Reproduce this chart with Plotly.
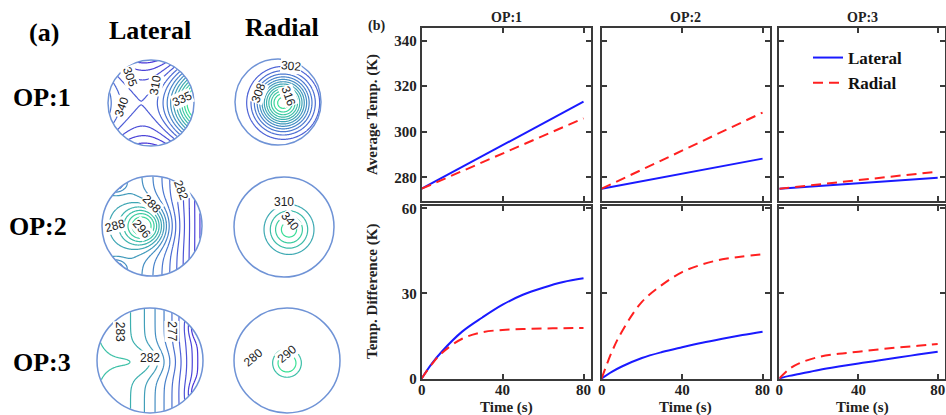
import numpy as np
import plotly.graph_objects as go
from plotly.colors import sample_colorscale

W, H = 946, 415

# ---------------- data ----------------
time_avg = [0, 20, 40, 60, 80]
avg_lateral_op1 = [275, 284.5, 294.1, 303.6, 313.2]
avg_radial_op1 = [275, 282.7, 290.4, 298.1, 305.9]
avg_lateral_op2 = [275, 278.3, 281.6, 284.9, 288.2]
avg_radial_op2 = [275, 283.4, 291.7, 300.0, 308.4]
avg_lateral_op3 = [275, 276.2, 277.4, 278.6, 279.8]
avg_radial_op3 = [275, 276.9, 278.8, 280.6, 282.5]

time_diff = [0, 5, 10, 20, 30, 40, 50, 60, 70, 80]
diff_lateral_op1 = [0, 5.2, 9.5, 16.5, 21.5, 26.0, 29.5, 32.0, 34.0, 35.3]
diff_radial_op1 = [0, 5.0, 9.0, 14.0, 16.3, 17.1, 17.4, 17.6, 17.7, 17.8]
diff_lateral_op2 = [0, 2.3, 4.2, 7.2, 9.3, 11.0, 12.6, 14.0, 15.3, 16.5]
diff_radial_op2 = [0, 9.3, 16.5, 27.0, 33.0, 37.5, 40.2, 42.0, 43.0, 43.8]
diff_lateral_op3 = [0, 0.9, 1.6, 3.0, 4.2, 5.3, 6.3, 7.4, 8.4, 9.4]
diff_radial_op3 = [0, 3.3, 5.3, 7.6, 8.7, 9.4, 10.2, 10.9, 11.5, 12.1]

op_names = ["OP:1", "OP:2", "OP:3"]
avg_ticks = [280, 300, 320, 340]
diff_ticks = [0, 30, 60]
time_ticks = [0, 40, 80]

# contour-map fields (a): hot/cold sources (x0, y0, amplitude, sx, sy) + trends
field_lat1 = dict(src=[(1.1, 0.0, 1.0, 0.45, 0.5)], gx=0.1, qx=0.4, qy=-0.4)
field_rad1 = dict(src=[(0.12, -0.02, 1.0, 0.42, 0.42)], gx=0, qx=0, qy=0)
field_lat2 = dict(src=[(-0.15, 0.0, 0.9, 0.3, 0.28), (-0.75, 0.85, -0.5, 0.15, 0.12),
                       (-0.75, -0.85, -0.5, 0.15, 0.12)], gx=-0.6, qx=-0.3, qy=0)
field_rad2 = dict(src=[(0.1, -0.05, 1.0, 0.3, 0.3)], gx=0, qx=0, qy=0)
field_lat3 = dict(src=[(-0.05, -0.03, 0.3, 0.35, 0.2), (0.98, 0.62, -0.5, 0.15, 0.15),
                       (0.98, -0.62, -0.5, 0.15, 0.15)], gx=-1.0, qx=-0.5, qy=0)
field_rad3 = dict(src=[(0.0, -0.05, 1.0, 0.2, 0.2)], gx=0, qx=0, qy=0)
fields = [field_lat1, field_rad1, field_lat2, field_rad2, field_lat3, field_rad3]
# (start, end, step) of contour levels, and colour range
levels = [(-0.35, 1.3, 0.12), (0.13, 0.97, 0.075), (-0.85, 1.0, 0.12),
          (0.25, 0.9, 0.21), (-1.3, 1.6, 0.2), (0.4, 0.75, 0.3)]
color_ranges = [(-0.35, 1.3), (-0.2, 1.0), (-0.85, 1.0), (-1.4, 1.0), (-1.3, 1.0), (-1.2, 0.8)]

contour_labels = [
    [("305", -0.5, 0.62, 70), ("310", 0.1, 0.42, -80), ("340", -0.68, -0.1, -70), ("335", 0.72, 0.1, -25)],
    [("302", 0.3, 0.84, 5), ("308", -0.45, 0.2, -70), ("316", 0.25, 0.15, 70)],
    [("288", -0.75, 0.0, -15), ("296", -0.2, -0.05, 50), ("288", 0.0, 0.45, 45), ("282", 0.58, 0.72, 70)],
    [("310", 0.0, 0.5, 0), ("340", 0.12, 0.12, 50)],
    [("283", -0.55, 0.55, 90), ("282", 0.0, 0.05, 0), ("277", 0.42, 0.55, 90)],
    [("280", -0.65, 0.05, -40), ("290", 0.0, 0.12, -40)],
]

# ---------------- layout helpers ----------------
SERIF = "Liberation Serif, Times New Roman, serif"


def clamp(v):
    return min(1.0, max(0.0, v))


def xdom(a, b):
    return [clamp(a / W), clamp(b / W)]


def ydom(top, bot):
    return [clamp(1 - bot / H), clamp(1 - top / H)]


def paper_text(text, x, y, font, angle=0):
    return dict(text=text, x=x / W, y=1 - y / H, xref="paper", yref="paper", showarrow=False,
                xanchor="center", yanchor="middle", textangle=angle, font=font)


fig = go.Figure()
layout = {}
shapes = []
annotations = []

# ---------------- (a) contour maps ----------------
N = 141
g = np.linspace(-1, 1, N)
X, Y = np.meshgrid(g, g)
R = np.hypot(X, Y)

circles = [(151, 103, 43), (278, 102, 43), (152, 226, 50), (284, 227, 50), (150, 361, 53), (287, 361, 53)]
base_scale = [[0, "#4a36d8"], [0.35, "#4f6fd6"], [0.65, "#3ea2b6"], [1, "#38e592"]]
pad = 1.04
for i, (cx, cy, r) in enumerate(circles):
    f = fields[i]
    Z = f["gx"] * X + f["qx"] * X ** 2 + f["qy"] * Y ** 2
    for (x0, y0, a, sx, sy) in f["src"]:
        Z = Z + a * np.exp(-((X - x0) ** 2 / (2 * sx ** 2) + (Y - y0) ** 2 / (2 * sy ** 2)))
    Zl = [[(float(Z[j, k]) if R[j, k] <= 1.0 else None) for k in range(N)] for j in range(N)]
    s, e, st = levels[i]
    lo, hi = color_ranges[i]
    fr = [clamp((s + (e - s) * q - lo) / (hi - lo)) for q in np.linspace(0, 1, 6)]
    cols6 = sample_colorscale(base_scale, fr)
    cscale = [[q, c] for q, c in zip(np.linspace(0, 1, 6).tolist(), cols6)]
    n = i + 1
    xa, ya = ("x" if n == 1 else f"x{n}"), ("y" if n == 1 else f"y{n}")
    fig.add_trace(go.Contour(z=Zl, x=g, y=g, xaxis=xa, yaxis=ya, showscale=False,
                             contours=dict(coloring="lines", start=s, end=e, size=st),
                             line=dict(width=1.2, smoothing=1.0), colorscale=cscale,
                             connectgaps=False, hoverinfo="skip"))
    rr = r * pad
    layout[f"xaxis{'' if n == 1 else n}"] = dict(domain=xdom(cx - rr, cx + rr), range=[-pad, pad],
                                                   visible=False, fixedrange=True, automargin=False)
    layout[f"yaxis{'' if n == 1 else n}"] = dict(domain=ydom(cy - rr, cy + rr), range=[-pad, pad],
                                                   visible=False, fixedrange=True, automargin=False)
    shapes.append(dict(type="circle", xref=xa, yref=ya, x0=-1, y0=-1, x1=1, y1=1,
                       line=dict(color="#6f93d6", width=1.5)))
    for (t, lx, ly, ang) in contour_labels[i]:
        annotations.append(dict(text=t, x=lx, y=ly, xref=xa, yref=ya, showarrow=False,
                                xanchor="center", yanchor="middle",
                                textangle=ang, bgcolor="white", borderpad=0,
                                font=dict(family="Liberation Sans, Arial", size=12, color="#222")))

big = dict(family=SERIF, size=26, color="black")
for t, x, y in [("<b>(a)</b>", 44, 32), ("<b>Lateral</b>", 150, 31), ("<b>Radial</b>", 282, 28),
                ("<b>OP:1</b>", 42, 98), ("<b>OP:2</b>", 38, 226), ("<b>OP:3</b>", 42, 362)]:
    annotations.append(paper_text(t, x, y, big))

# ---------------- (b) line charts ----------------
cols = [(421.7, 591), (601.7, 770), (779.3, 945)]
rows = [(28.3, 201), (206, 379)]
avg_lat = [avg_lateral_op1, avg_lateral_op2, avg_lateral_op3]
avg_rad = [avg_radial_op1, avg_radial_op2, avg_radial_op3]
dif_lat = [diff_lateral_op1, diff_lateral_op2, diff_lateral_op3]
dif_rad = [diff_radial_op1, diff_radial_op2, diff_radial_op3]

tickfont = dict(family=SERIF, size=15, color="#222", weight="bold")
BLUE, RED = "#1a1aff", "#ff2020"
axn = 7
for ri, (top, bot) in enumerate(rows):
    for ci, (left, right) in enumerate(cols):
        xa, ya = f"x{axn}", f"y{axn}"
        if ri == 0:
            tx, yl, yr, ys, yt = time_avg, avg_lat[ci], avg_rad[ci], [269.6, 345.4], avg_ticks
            shape = "linear"
        else:
            tx, yl, yr, ys, yt = time_diff, dif_lat[ci], dif_rad[ci], [-0.2, 60.8], diff_ticks
            shape = "spline"
        first = (ri == 0 and ci == 0)
        fig.add_trace(go.Scatter(x=tx, y=yl, xaxis=xa, yaxis=ya, mode="lines", name="Lateral",
                                 legendgroup="lat", showlegend=first,
                                 line=dict(color=BLUE, width=2, shape=shape)))
        fig.add_trace(go.Scatter(x=tx, y=yr, xaxis=xa, yaxis=ya, mode="lines", name="Radial",
                                 legendgroup="rad", showlegend=first,
                                 line=dict(color=RED, width=2, dash="10px,6px", shape=shape)))
        common = dict(showline=True, mirror="allticks", linecolor="#3a3a3a", linewidth=2,
                      ticks="inside", tickwidth=2, ticklen=5, tickcolor="#3a3a3a",
                      showgrid=False, zeroline=False, fixedrange=True, tickfont=tickfont,
                      automargin=False)
        layout[f"xaxis{axn}"] = dict(domain=xdom(left, right), range=[0, 83.7], tickvals=time_ticks,
                                     showticklabels=(ri == 1), anchor=ya, ticklabelstandoff=-4,
                                     **common)
        layout[f"yaxis{axn}"] = dict(domain=ydom(top, bot), range=ys, tickvals=yt,
                                     showticklabels=(ci == 0), anchor=xa, **common)
        axn += 1

lab = dict(family=SERIF, size=15, color="#222")
for ci, (left, right) in enumerate(cols):
    annotations.append(paper_text(f"<b>{op_names[ci]}</b>", (left + right) / 2, 17,
                                  dict(family=SERIF, size=14, color="#222")))
    annotations.append(paper_text("<b>Time (s)</b>", (left + right) / 2, 407.5, lab))
annotations.append(paper_text("<b>(b)</b>", 376, 26, dict(family=SERIF, size=14, color="#222")))
annotations.append(paper_text("<b>Average Temp. (K)</b>", 372, 115, lab, -90))
annotations.append(paper_text("<b>Temp. Difference (K)</b>", 372, 292, lab, -90))

fig.update_layout(width=W, height=H, margin=dict(l=0, r=0, t=0, b=0, autoexpand=False),
                  paper_bgcolor="white", plot_bgcolor="white",
                  showlegend=True,
                  legend=dict(x=808 / W, y=1 - 40 / H, xanchor="left", yanchor="top",
                              bgcolor="rgba(0,0,0,0)", tracegroupgap=0, itemwidth=30,
                              font=dict(family=SERIF, size=17, color="#111", weight="bold")),
                  shapes=shapes, annotations=annotations, **layout)

fig.write_html("out.html", config={"displayModeBar": False},
               post_script="document.body.style.margin='0';")
